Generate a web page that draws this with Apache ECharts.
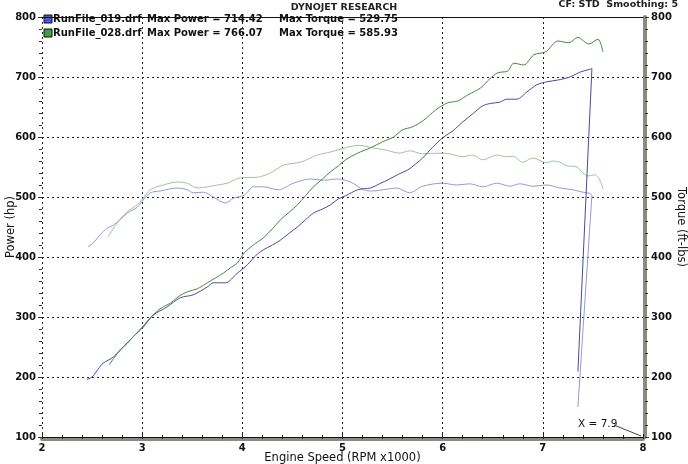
<!DOCTYPE html>
<html>
<head>
<meta charset="utf-8">
<script src="https://cdn.jsdelivr.net/npm/echarts@6/dist/echarts.min.js"></script>
<style>
html,body{margin:0;padding:0;background:#fff;}
#c{width:688px;height:464px;}
</style>
</head>
<body>
<div id="c"></div>
<script>
// ---- data ----
const xTicks = [2, 3, 4, 5, 6, 7, 8];
const yTicks = [100, 200, 300, 400, 500, 600, 700, 800];

const rpm019Power = [2.45,2.50,2.56,2.61,2.71,2.81,2.91,3.01,3.11,3.25,3.38,3.51,3.65,3.71,3.83,3.95,4.05,4.15,4.21,4.30,4.38,4.47,4.55,4.63,4.71,4.80,4.88,4.96,5.03,5.15,5.22,5.28,5.37,5.47,5.56,5.65,5.73,5.80,5.90,6.01,6.10,6.20,6.31,6.40,6.48,6.57,6.64,6.74,6.84,6.94,7.04,7.15,7.27,7.37,7.47,7.49,7.35];
const power019 = [196,200,213,223,233,250,267,283,303,317,332,337,350,357,357,373,387,405,412,420,428,440,450,462,473,480,487,497,502,512,514,515,522,530,538,545,555,565,583,600,610,625,640,652,656,658,663,663,675,687,692,695,700,708,713,714,209];

const rpm028Power = [2.67,2.72,2.78,2.85,2.91,3.00,3.10,3.19,3.28,3.37,3.45,3.55,3.65,3.73,3.81,3.88,3.95,4.02,4.11,4.21,4.30,4.38,4.47,4.55,4.63,4.71,4.80,4.88,4.96,5.03,5.15,5.28,5.40,5.51,5.60,5.70,5.81,5.93,6.05,6.15,6.25,6.38,6.47,6.55,6.65,6.71,6.81,6.91,7.03,7.15,7.26,7.35,7.46,7.55,7.60];
const power028 = [220,232,245,256,267,283,302,315,323,335,342,347,357,365,373,382,390,407,420,432,447,462,475,487,502,517,530,542,552,562,573,582,592,600,612,617,628,645,657,660,670,682,697,707,710,723,720,737,742,760,757,766,755,763,742];

const rpm019Torque = [2.46,2.51,2.58,2.65,2.71,2.78,2.85,2.95,3.01,3.08,3.18,3.35,3.45,3.51,3.61,3.71,3.83,3.91,4.02,4.11,4.21,4.36,4.51,4.68,4.81,4.95,5.08,5.21,5.30,5.44,5.54,5.67,5.80,6.00,6.14,6.27,6.40,6.54,6.67,6.77,6.90,7.04,7.17,7.30,7.40,7.47,7.49,7.35];
const torque019 = [417,423,437,448,453,462,473,483,495,507,510,515,512,507,508,500,490,498,503,517,517,512,523,530,528,530,525,512,510,513,515,507,518,523,520,522,517,523,518,522,518,520,515,512,508,506,503,150];

const rpm028Torque = [2.66,2.75,2.85,2.95,3.01,3.08,3.21,3.35,3.45,3.55,3.65,3.75,3.85,3.98,4.15,4.28,4.41,4.58,4.75,4.88,5.03,5.10,5.17,5.30,5.44,5.57,5.67,5.80,5.97,6.07,6.20,6.30,6.40,6.54,6.64,6.70,6.80,6.90,7.04,7.10,7.17,7.24,7.34,7.40,7.45,7.52,7.57,7.60];
const torque028 = [433,457,475,487,498,512,520,525,523,515,517,520,523,532,533,540,553,558,570,575,582,585,586,582,578,573,577,572,573,572,567,570,562,570,567,568,558,565,557,560,558,552,550,540,535,537,528,513];

const runNames = ['RunFile_019.drf', 'RunFile_028.drf'];
const maxPower = ['714.42', '766.07'];
const maxTorque = ['529.75', '585.93'];
const cursorLabel = 'X = 7.9';

// ---- build ----
function pairs(xs, ys){ return xs.map((x,i)=>[x, ys[i]]); }
const FONT = 'DejaVu Sans';
const chart = echarts.init(document.getElementById('c'));

const P019 = pairs(rpm019Power, power019);
const T019 = pairs(rpm019Torque, torque019);

const yAxisBase = {
  type: 'value', min: yTicks[0], max: yTicks[yTicks.length-1], interval: 100,
  axisLabel: {fontFamily: FONT, fontSize: 10, fontWeight: 'bold', color: '#111', margin: 6},
  nameLocation: 'middle', nameMoveOverlap: false,
  nameTextStyle: {fontFamily: FONT, fontSize: 11.5, color: '#111'},
  minorTick: {show: true, splitNumber: 5, length: 3, lineStyle: {color: '#333'}},
  axisTick: {show: true, length: 4, lineStyle: {color: '#333'}}
};

function lineSeries(data, yIdx, color, smooth, z){
  return {type: 'line', xAxisIndex: 0, yAxisIndex: yIdx, data: data, showSymbol: false,
          smooth: smooth, lineStyle: {color: color, width: 1}, z: z};
}

chart.setOption({
  animation: false,
  backgroundColor: '#fff',
  grid: {left: 42, right: 45, top: 17, bottom: 27, containLabel: false, outerBoundsMode: 'none'},
  xAxis: [
    {
      type: 'value', min: xTicks[0], max: xTicks[xTicks.length-1], interval: 1,
      position: 'bottom', offset: 2,
      name: 'Engine Speed (RPM x1000)', nameLocation: 'middle', nameGap: 13, nameMoveOverlap: false,
      nameTextStyle: {fontFamily: FONT, fontSize: 11.5, color: '#111'},
      axisLine: {show: true, lineStyle: {color: '#8c8c7e', width: 4}},
      axisTick: {show: true, inside: true, length: 5, lineStyle: {color: '#222'}},
      minorTick: {show: true, splitNumber: 5, length: 4, lineStyle: {color: '#222'}},
      axisLabel: {fontFamily: FONT, fontSize: 10, fontWeight: 'bold', color: '#111', margin: 4},
      splitLine: {show: true, lineStyle: {color: '#222', type: [2, 3], width: 1}}
    },
    {
      type: 'value', min: xTicks[0], max: xTicks[xTicks.length-1], position: 'top',
      axisLine: {show: true, onZero: false, lineStyle: {color: '#111', width: 1}},
      axisTick: {show: false}, axisLabel: {show: false}, splitLine: {show: false}
    },
    {
      type: 'value', min: xTicks[0], max: xTicks[xTicks.length-1], position: 'bottom',
      axisLine: {show: true, onZero: false, lineStyle: {color: '#111', width: 1}},
      axisTick: {show: false}, axisLabel: {show: false}, splitLine: {show: false}
    }
  ],
  yAxis: [
    Object.assign({}, yAxisBase, {
      position: 'left', name: 'Power (hp)', nameGap: 25, nameRotate: 90,
      axisLine: {show: false},
      splitLine: {show: true, lineStyle: {color: '#222', type: [2, 3], width: 1}}
    }),
    Object.assign({}, yAxisBase, {
      position: 'right', name: 'Torque (ft-lbs)', nameGap: 30, nameRotate: -90, offset: 2,
      axisLine: {show: true, lineStyle: {color: '#8c8c7e', width: 4}},
      splitLine: {show: false}
    })
  ],
  series: [
    lineSeries(P019.slice(0, -1), 0, '#4a4a98', 0.3, 5),
    lineSeries(P019.slice(-2), 0, '#4a4a98', false, 5),
    lineSeries(T019.slice(0, -1), 1, '#9898d8', 0.3, 4),
    lineSeries(T019.slice(-2), 1, '#9898d8', false, 4),
    lineSeries(pairs(rpm028Power, power028), 0, '#3f8a3f', 0.3, 5),
    lineSeries(pairs(rpm028Torque, torque028), 1, '#98c898', 0.3, 4)
  ],
  graphic: [
    {type: 'text', left: 'center', top: 3, style: {text: 'DYNOJET RESEARCH', fontFamily: FONT, fontSize: 9.5, fontWeight: 'bold', fill: '#222'}},
    {type: 'text', right: 10, top: 0, style: {text: 'CF: STD  Smoothing: 5', fontFamily: FONT, fontSize: 9.5, fontWeight: 'bold', fill: '#222'}},
    {type: 'rect', shape: {x: 44, y: 15, width: 8, height: 8}, style: {fill: '#5050e8', stroke: '#111', lineWidth: 1}},
    {type: 'rect', shape: {x: 44, y: 29, width: 8, height: 8}, style: {fill: '#40a040', stroke: '#111', lineWidth: 1}},
    {type: 'text', x: 53, y: 14, style: {text: runNames[0], fontFamily: FONT, fontSize: 10, fontWeight: 'bold', fill: '#111'}},
    {type: 'text', x: 53, y: 28, style: {text: runNames[1], fontFamily: FONT, fontSize: 10, fontWeight: 'bold', fill: '#111'}},
    {type: 'text', x: 147, y: 14, style: {text: 'Max Power = ' + maxPower[0], fontFamily: FONT, fontSize: 10, fontWeight: 'bold', fill: '#111'}},
    {type: 'text', x: 147, y: 28, style: {text: 'Max Power = ' + maxPower[1], fontFamily: FONT, fontSize: 10, fontWeight: 'bold', fill: '#111'}},
    {type: 'text', x: 279, y: 14, style: {text: 'Max Torque = ' + maxTorque[0], fontFamily: FONT, fontSize: 10, fontWeight: 'bold', fill: '#111'}},
    {type: 'text', x: 279, y: 28, style: {text: 'Max Torque = ' + maxTorque[1], fontFamily: FONT, fontSize: 10, fontWeight: 'bold', fill: '#111'}},
    {type: 'text', x: 578, y: 419, style: {text: cursorLabel, fontFamily: FONT, fontSize: 10.5, fill: '#111'}},
    {type: 'line', shape: {x1: 614, y1: 425, x2: 641, y2: 436}, style: {stroke: '#444', lineWidth: 1}}
  ]
});
</script>
</body>
</html>
